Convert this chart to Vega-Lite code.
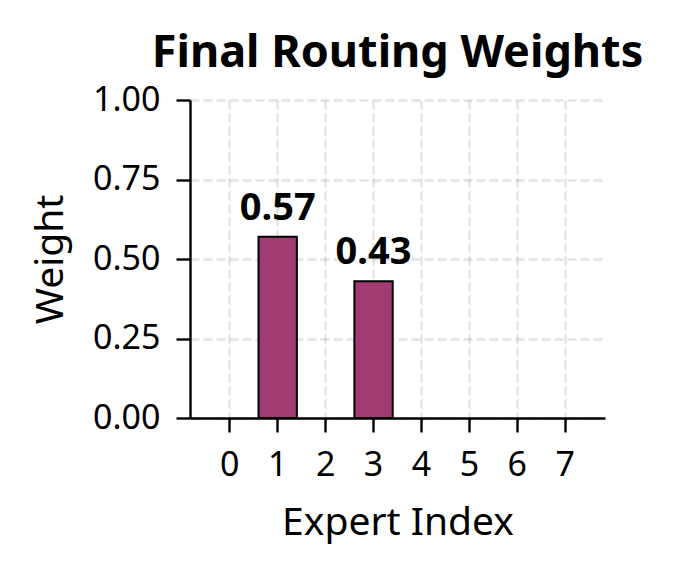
{
  "$schema": "https://vega.github.io/schema/vega-lite/v6.json",
  "autosize": {"type": "none"},
  "padding": {"left": 190, "top": 100, "right": 68, "bottom": 156},
  "width": 415,
  "height": 318,
  "background": "white",
  "data": {
    "values": [
      {"expert": "0", "weight": 0},
      {"expert": "1", "weight": 0.57},
      {"expert": "2", "weight": 0},
      {"expert": "3", "weight": 0.43},
      {"expert": "4", "weight": 0},
      {"expert": "5", "weight": 0},
      {"expert": "6", "weight": 0},
      {"expert": "7", "weight": 0}
    ]
  },
  "title": {
    "text": "Final Routing Weights",
    "fontSize": 45,
    "fontWeight": "bold",
    "anchor": "middle",
    "offset": 7,
    "color": "black"
  },
  "encoding": {
    "x": {
      "field": "expert",
      "type": "ordinal",
      "title": "Expert Index",
      "scale": {"domain": ["0", "1", "2", "3", "4", "5", "6", "7"], "paddingInner": 0.2, "paddingOuter": 0.43},
      "axis": {"labelAngle": 0, "bandPosition": 0.5, "labelPadding": 16, "titlePadding": 21}
    },
    "y": {
      "field": "weight",
      "type": "quantitative",
      "title": "Weight",
      "scale": {"domain": [0, 1], "nice": false},
      "axis": {"values": [0, 0.25, 0.5, 0.75, 1], "format": ".2f", "labelPadding": 16, "titlePadding": 22}
    }
  },
  "layer": [
    {
      "transform": [{"filter": "datum.weight > 0"}],
      "mark": {"type": "bar", "color": "#a23b72", "stroke": "black", "strokeWidth": 2}
    },
    {
      "transform": [{"filter": "datum.weight > 0"}],
      "mark": {"type": "text", "baseline": "alphabetic", "dy": -17, "fontSize": 38, "fontWeight": "bold", "color": "black"},
      "encoding": {"text": {"field": "weight", "type": "quantitative", "format": ".2f"}}
    }
  ],
  "config": {
    "font": "Noto Sans",
    "view": {"stroke": null},
    "axis": {
      "zindex": 1,
      "grid": true,
      "gridColor": "#b0b0b0",
      "gridOpacity": 0.35,
      "gridDash": [9, 4],
      "gridWidth": 2.4,
      "domainColor": "black",
      "domainWidth": 2.4,
      "tickColor": "black",
      "tickWidth": 2.4,
      "tickSize": 14,
      "labelFontSize": 34,
      "labelColor": "black",
      "titleFontSize": 39,
      "titleFontWeight": "normal",
      "titleColor": "black"
    }
  }
}
